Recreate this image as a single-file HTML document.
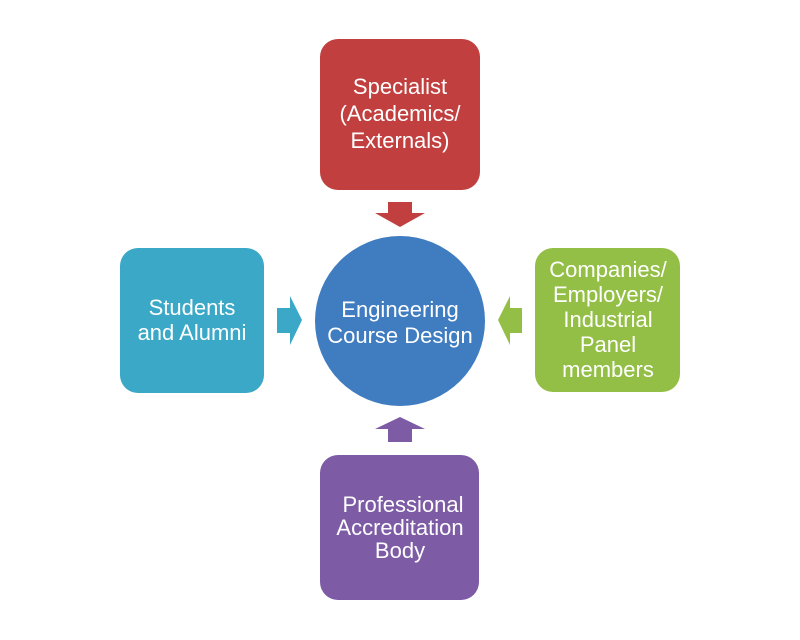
<!DOCTYPE html>
<html><head><meta charset="utf-8"><style>
html,body{margin:0;padding:0;background:#fff;width:800px;height:640px;overflow:hidden}
text{font-family:"Liberation Sans",sans-serif;font-size:22px;fill:#fff;text-anchor:middle}
</style></head><body>
<svg width="800" height="640" viewBox="0 0 800 640">
<rect x="320" y="39" width="160" height="151" rx="18" fill="#c1403f"/>
<text x="400" y="94">Specialist</text>
<text x="400" y="121">(Academics/</text>
<text x="400" y="148">Externals)</text>
<polygon points="388,202 412,202 412,213 425,213 400,227 375,213 388,213" fill="#c1403f"/>

<rect x="120" y="248" width="144" height="145" rx="18" fill="#3aa8c6"/>
<text x="192" y="315">Students</text>
<text x="192" y="340">and Alumni</text>
<polygon points="277,308 290,308 290,296 302,320 290,345 290,333 277,333" fill="#3aa8c6"/>

<circle cx="400" cy="321" r="85" fill="#3f7cc0"/>
<text x="400" y="317">Engineering</text>
<text x="400" y="343">Course Design</text>

<rect x="535" y="248" width="145" height="144" rx="18" fill="#93bf46"/>
<text x="608" y="277">Companies/</text>
<text x="608" y="302">Employers/</text>
<text x="608" y="327">Industrial</text>
<text x="608" y="352">Panel</text>
<text x="608" y="377">members</text>
<polygon points="522,308 510,308 510,296 498,320 510,345 510,333 522,333" fill="#93bf46"/>

<polygon points="388,442 412,442 412,429 425,429 400,417 375,429 388,429" fill="#7d5ba5"/>
<rect x="320" y="455" width="159" height="145" rx="18" fill="#7d5ba5"/>
<text x="403" y="512">Professional</text>
<text x="400" y="535">Accreditation</text>
<text x="400" y="558">Body</text>
</svg>
</body></html>
